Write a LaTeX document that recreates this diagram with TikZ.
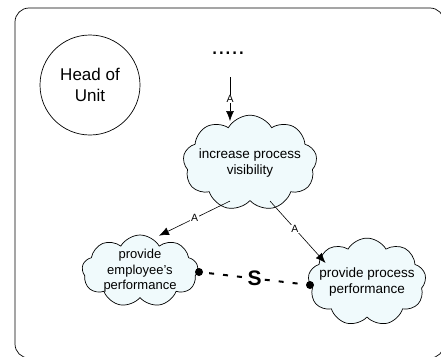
\documentclass[tikz,border=0pt]{standalone}
\usepackage{fontspec}
\setmainfont{Liberation Sans}
\usetikzlibrary{shapes.symbols,arrows.meta}
\definecolor{cloudfill}{RGB}{240,250,252}
\tikzset{
  goal/.style={cloud, cloud puffs=9, cloud puff arc=120, aspect=1.5, draw=black,
    fill=cloudfill, line width=0.7pt, align=center, font=\fontsize{13.5}{16.5}\selectfont,
    inner sep=-10pt},
  link/.style={-{Latex[length=10pt,width=8pt]}, line width=0.6pt},
  tag/.style={fill=white, inner sep=0.8pt, font=\fontsize{10.5}{11}\selectfont},
  endpoint/.style={circle, fill=black, inner sep=0pt, minimum size=8pt},
}
\begin{document}
\begin{tikzpicture}[x=1pt,y=-1pt]
\useasboundingbox (0,0) rectangle (441,356);
% enclosing frame
\draw[line width=0.7pt, rounded corners=14pt] (15,8) rectangle (444,358);
% role
\node[circle, draw, line width=0.7pt, minimum size=100pt, align=center,
      font=\fontsize{17}{21}\selectfont] (head) at (90,85) {Head of\\Unit};
% goals
\node[goal, minimum width=134pt, minimum height=88pt] (c1) at (250,163) {increase process\\visibility};
\node[goal, minimum width=116pt, minimum height=72pt, font=\fontsize{13}{15.5}\selectfont] (c2) at (140,271) {provide\\employee's\\performance};
\node[goal, minimum width=118pt, minimum height=74pt] (c3) at (367,282) {provide process\\performance};
% incoming link from elsewhere
\node[font=\fontsize{24}{24}\selectfont] (more) at (228,53) {.....};
\coordinate (src) at (230,77);
\coordinate (dst) at (230,121);
\draw[link] (src) -- node[tag] {A} (dst);
% decompositions
\draw[link] ([xshift=-20pt]c1.south) -- node[tag] {A} ([xshift=19pt,yshift=-1pt]c2.north);
\draw[link] ([xshift=20pt]c1.south) -- node[tag, pos=0.45] {A} ([xshift=17pt,yshift=19pt]c3.west);
% S relation
\node[endpoint] (p1) at (199,272) {};
\node[endpoint] (p2) at (310,285) {};
\draw[line width=2pt, dash pattern=on 5pt off 9pt, dash phase=-6pt] (p1) -- node[fill=white, inner sep=2pt, font=\bfseries\fontsize{21}{21}\selectfont] {S} (p2);
\end{tikzpicture}
\end{document}
